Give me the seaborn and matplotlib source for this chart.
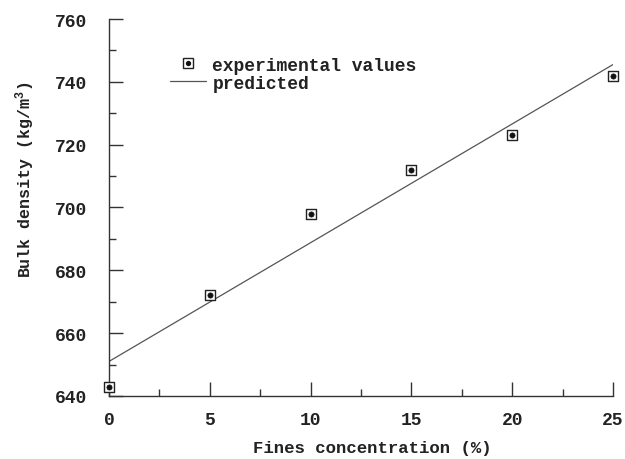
import matplotlib
matplotlib.use("Agg")
import matplotlib.pyplot as plt
import seaborn as sns
import pandas as pd
from matplotlib.legend_handler import HandlerTuple
from matplotlib.ticker import MultipleLocator
from matplotlib.lines import Line2D

# data
fines = [0, 5, 10, 15, 20, 25]
density = [643, 672, 698, 712, 723, 742]
pred_x = [0, 25]
pred_y = [651, 745.5]
xticks = [0, 5, 10, 15, 20, 25]
yticks = [640, 660, 680, 700, 720, 740, 760]

sns.set_theme(style="ticks")
plt.rcParams['font.family'] = ['Liberation Mono', 'DejaVu Sans Mono']
plt.rcParams['font.weight'] = 'bold'
plt.rcParams['axes.labelweight'] = 'bold'
plt.rcParams['mathtext.fontset'] = 'custom'
plt.rcParams['mathtext.rm'] = 'Liberation Mono:bold'
plt.rcParams['mathtext.it'] = 'Liberation Mono:bold'

fig = plt.figure(figsize=(6.25, 4.6), dpi=100)
ax = fig.add_axes([109/625, 1-397/460, (613-109)/625, (397-20)/460])

df = pd.DataFrame({"x": fines, "y": density})
dp = pd.DataFrame({"x": pred_x, "y": pred_y})

sns.lineplot(data=dp, x="x", y="y", ax=ax, color="#555555", linewidth=0.9, zorder=2)
sns.scatterplot(data=df, x="x", y="y", ax=ax, marker="s", s=55, facecolor="white",
                edgecolor="#222222", linewidth=1.0, zorder=3, clip_on=False)
sns.scatterplot(data=df, x="x", y="y", ax=ax, marker="o", s=14, color="#111111",
                edgecolor="#111111", linewidth=0.5, zorder=4, clip_on=False)

ax.set_xlim(0, 25)
ax.set_ylim(640, 760)
ax.set_xticks(xticks)
ax.set_yticks(yticks)
ax.xaxis.set_minor_locator(MultipleLocator(2.5))
ax.yaxis.set_minor_locator(MultipleLocator(10))
ax.tick_params(axis='both', which='major', direction='in', length=10, width=1,
               colors='#333333', labelsize=13, labelcolor='#222222')
ax.tick_params(axis='both', which='minor', direction='in', length=5, width=1, colors='#333333')
ax.tick_params(axis='y', which='major', pad=16)
ax.tick_params(axis='x', which='major', pad=11)
for s in ['top', 'right']:
    ax.spines[s].set_visible(False)
for s in ['left', 'bottom']:
    ax.spines[s].set_color('#333333')
    ax.spines[s].set_linewidth(1.0)

ax.set_xlabel("Fines concentration (%)", fontsize=12.5, color='#222222', va='center',
              fontweight='bold')
ax.set_ylabel("Bulk density (kg/m$^3$)", fontsize=12, color='#222222', va='center',
              fontweight='bold')
ax.xaxis.set_label_coords(0.522, -0.136)
ax.yaxis.set_label_coords(-0.167, 0.576)

# legend
h_sq = Line2D([], [], marker='s', markersize=7, markerfacecolor='white',
              markeredgecolor='#222222', linestyle='none')
h_dot = Line2D([], [], marker='o', markersize=2.8, color='#111111', linestyle='none')
h_line = Line2D([], [], color='#555555', linewidth=0.9)
leg = ax.legend([(h_sq, h_dot), h_line], ["experimental values", "predicted"],
                handler_map={tuple: HandlerTuple(ndivide=1, pad=0)},
                loc='upper left', bbox_to_anchor=(0.121, 0.90), frameon=False,
                fontsize=13, handlelength=2.0, handletextpad=0.35,
                labelspacing=0.05, borderpad=0, borderaxespad=0)
for t in leg.get_texts():
    t.set_color('#222222')

fig.savefig("out.png", dpi=100)
